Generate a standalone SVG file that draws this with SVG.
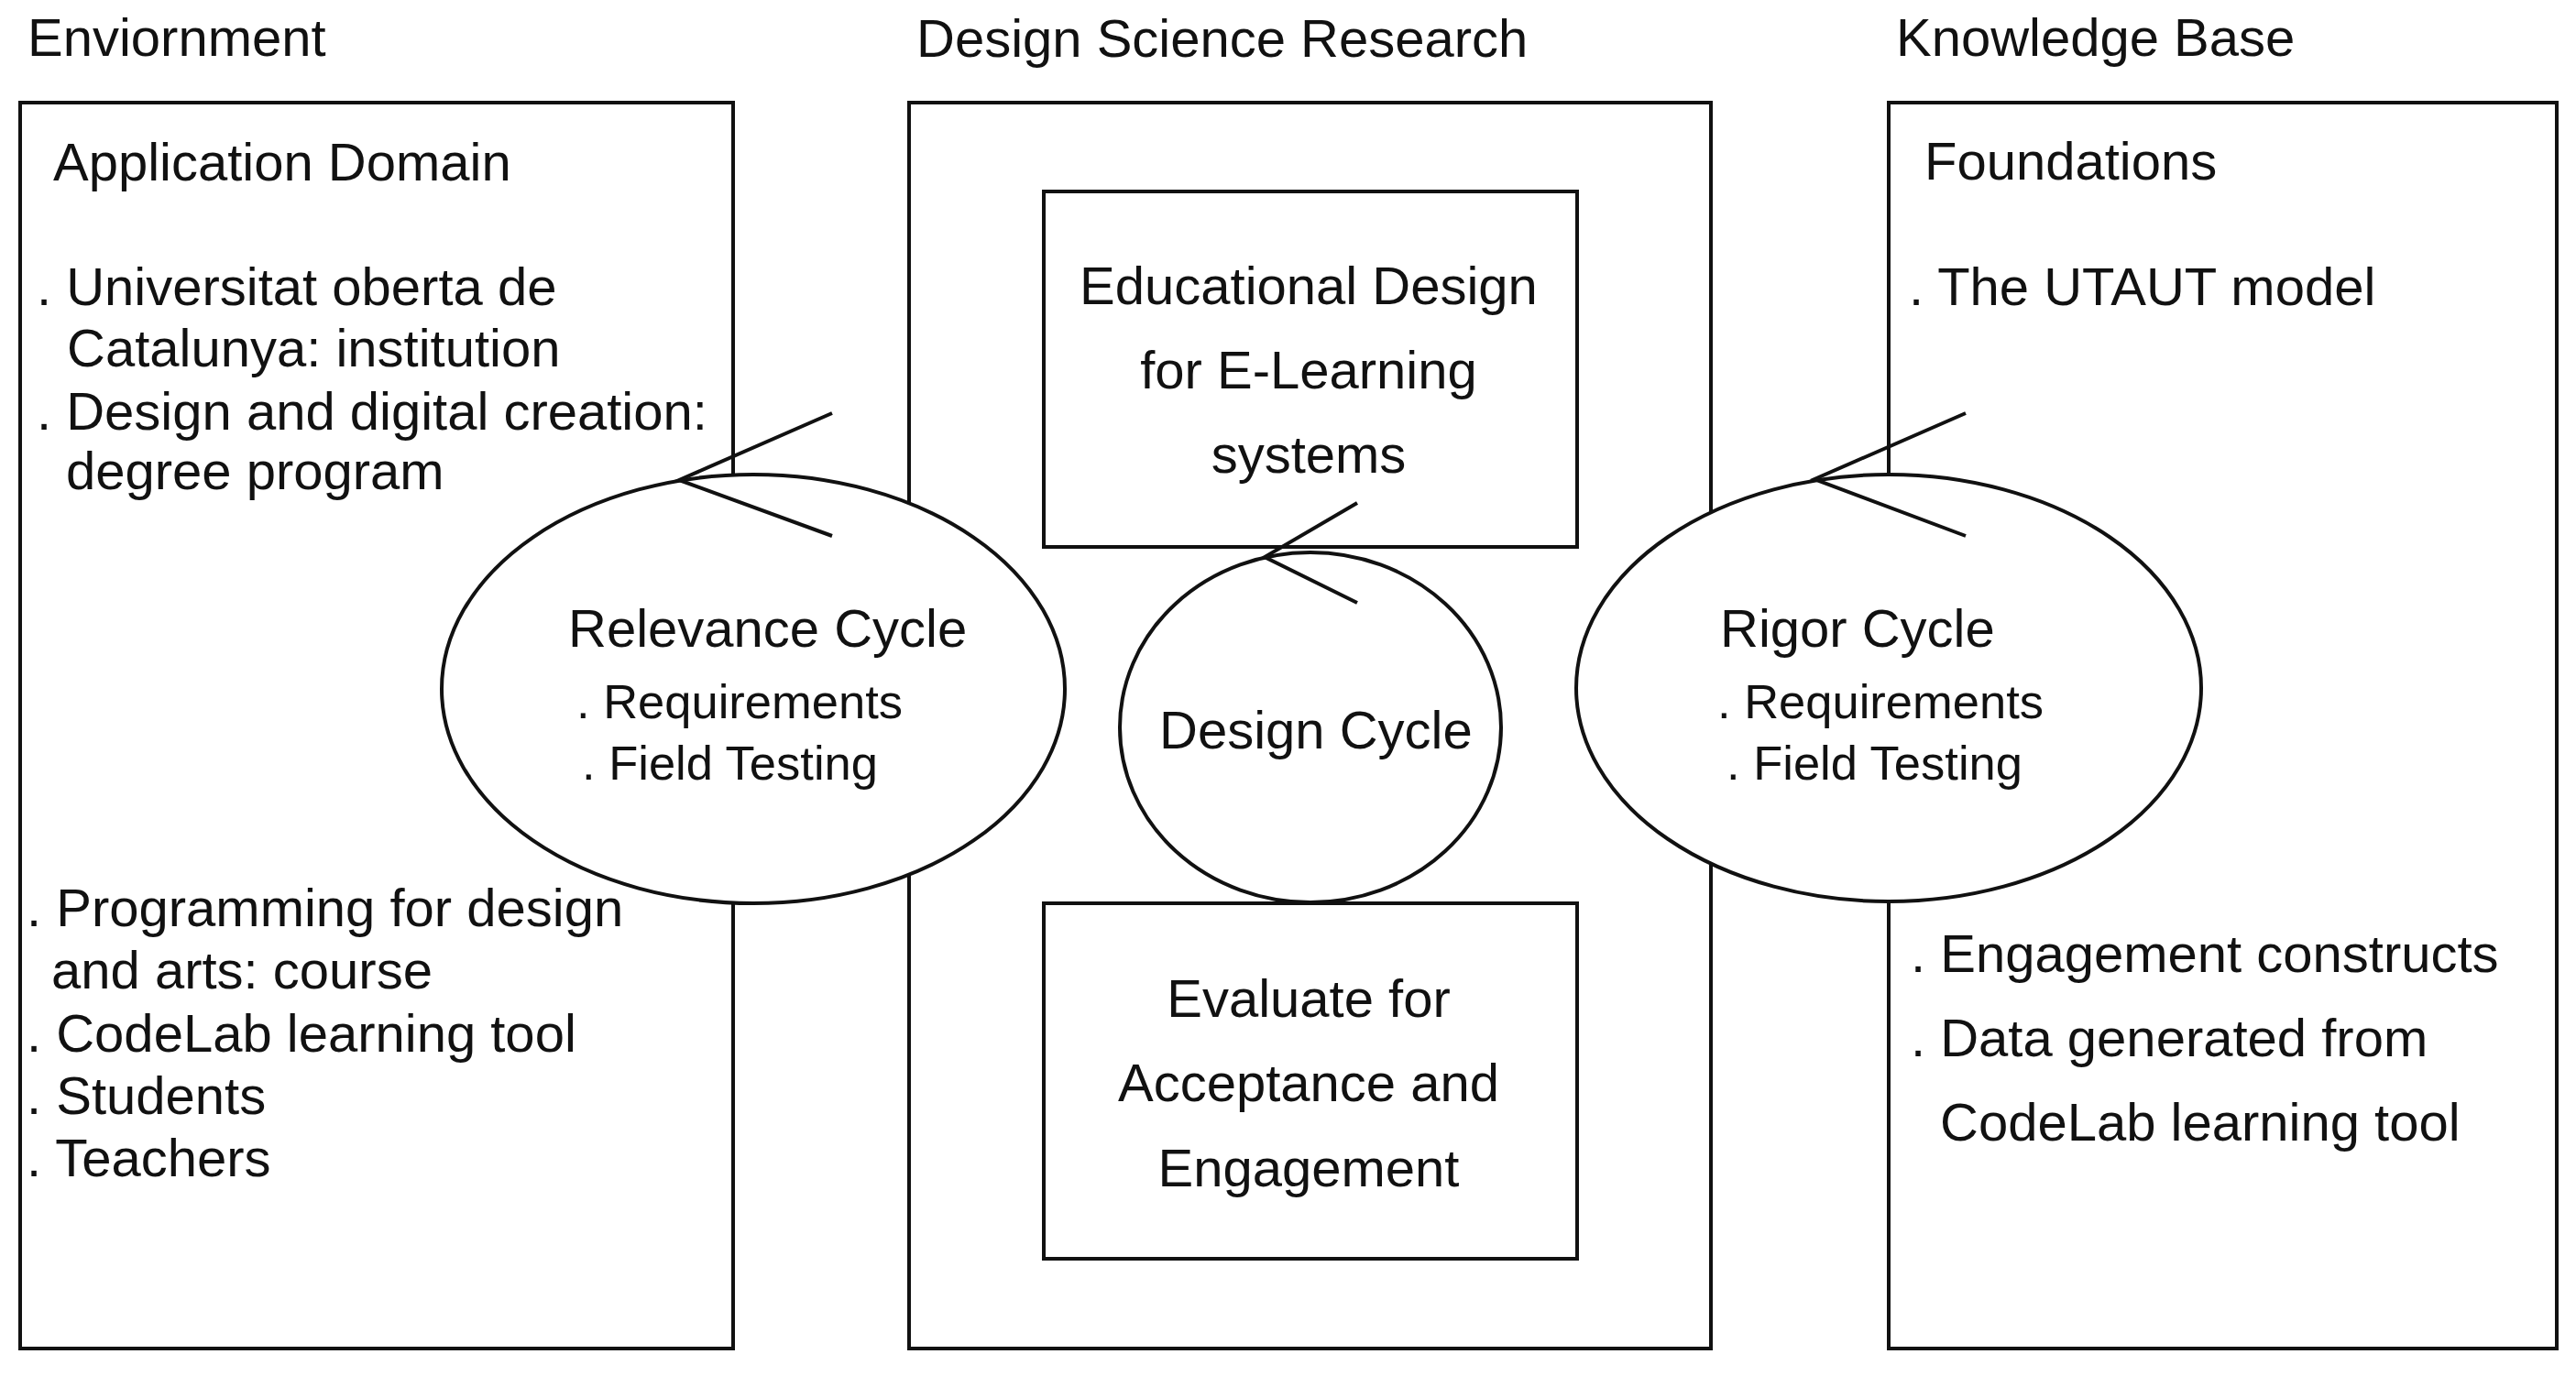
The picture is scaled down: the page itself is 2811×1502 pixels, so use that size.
<svg xmlns="http://www.w3.org/2000/svg" width="2811" height="1502" viewBox="0 0 2811 1502">
<style>
  text { font-family: "Liberation Sans", Arial, Helvetica, sans-serif; fill: #111; }
  .t { font-size: 58px; }
  .s { font-size: 52.5px; }
  .c { text-anchor: middle; }
  .box { fill: none; stroke: #111; stroke-width: 4; }
  .ell { fill: #fff; stroke: #111; stroke-width: 4; }
  .arr { fill: none; stroke: #111; stroke-width: 4; stroke-linejoin: miter; stroke-linecap: butt; }
</style>
<rect x="0" y="0" width="2811" height="1502" fill="#fff"/>

<g id="environment">
  <text class="t" x="30" y="61">Enviornment</text>
  <rect class="box" x="22" y="112" width="778" height="1360"/>
  <text class="t" x="58" y="197">Application Domain</text>
  <text class="t" x="40" y="333">. Universitat oberta de</text>
  <text class="t" x="73" y="400">Catalunya: institution</text>
  <text class="t" x="40" y="469">. Design and digital creation:</text>
  <text class="t" x="72" y="534">degree program</text>
  <text class="t" x="29" y="1011">. Programming for design</text>
  <text class="t" x="56" y="1079">and arts: course</text>
  <text class="t" x="29" y="1148">. CodeLab learning tool</text>
  <text class="t" x="29" y="1216">. Students</text>
  <text class="t" x="29" y="1284">. Teachers</text>
</g>

<g id="design-science-research">
  <text class="t" x="1000" y="62">Design Science Research</text>
  <rect class="box" x="992" y="112" width="875" height="1360"/>
</g>

<g id="educational-design">
  <rect class="box" x="1139" y="209" width="582" height="388"/>
  <text class="t c" x="1428" y="332">Educational Design</text>
  <text class="t c" x="1428" y="424">for E-Learning</text>
  <text class="t c" x="1428" y="516">systems</text>
</g>

<g id="evaluate">
  <rect class="box" x="1139" y="986" width="582" height="388"/>
  <text class="t c" x="1428" y="1110">Evaluate for</text>
  <text class="t c" x="1428" y="1202">Acceptance and</text>
  <text class="t c" x="1428" y="1295">Engagement</text>
</g>

<g id="knowledge-base">
  <text class="t" x="2069" y="61">Knowledge Base</text>
  <rect class="box" x="2061" y="112" width="729" height="1360"/>
  <text class="t" x="2100" y="196">Foundations</text>
  <text class="t" x="2083" y="333">. The UTAUT model</text>
  <text class="t" x="2085" y="1061">. Engagement constructs</text>
  <text class="t" x="2085" y="1153">. Data generated from</text>
  <text class="t" x="2117" y="1245">CodeLab learning tool</text>
</g>

<g id="relevance-cycle">
  <ellipse class="ell" cx="822" cy="752" rx="340" ry="234"/>
  <text class="t" x="620" y="706">Relevance Cycle</text>
  <text class="s" x="629" y="784">. Requirements</text>
  <text class="s" x="635" y="851">. Field Testing</text>
</g>

<g id="design-cycle">
  <ellipse class="ell" cx="1430" cy="794" rx="208" ry="191"/>
  <text class="t" x="1265" y="817">Design Cycle</text>
</g>

<g id="rigor-cycle">
  <ellipse class="ell" cx="2061" cy="751" rx="341" ry="233"/>
  <text class="t" x="1877" y="706">Rigor Cycle</text>
  <text class="s" x="1874" y="784">. Requirements</text>
  <text class="s" x="1884" y="851">. Field Testing</text>
</g>

<g id="connectors">
  <path class="arr" d="M908,451 L741,524 L908,585"/>
  <path class="arr" d="M1481,549 L1380,608 L1481,658"/>
  <path class="arr" d="M2145,451 L1980,523 L2145,585"/>
</g>
</svg>
